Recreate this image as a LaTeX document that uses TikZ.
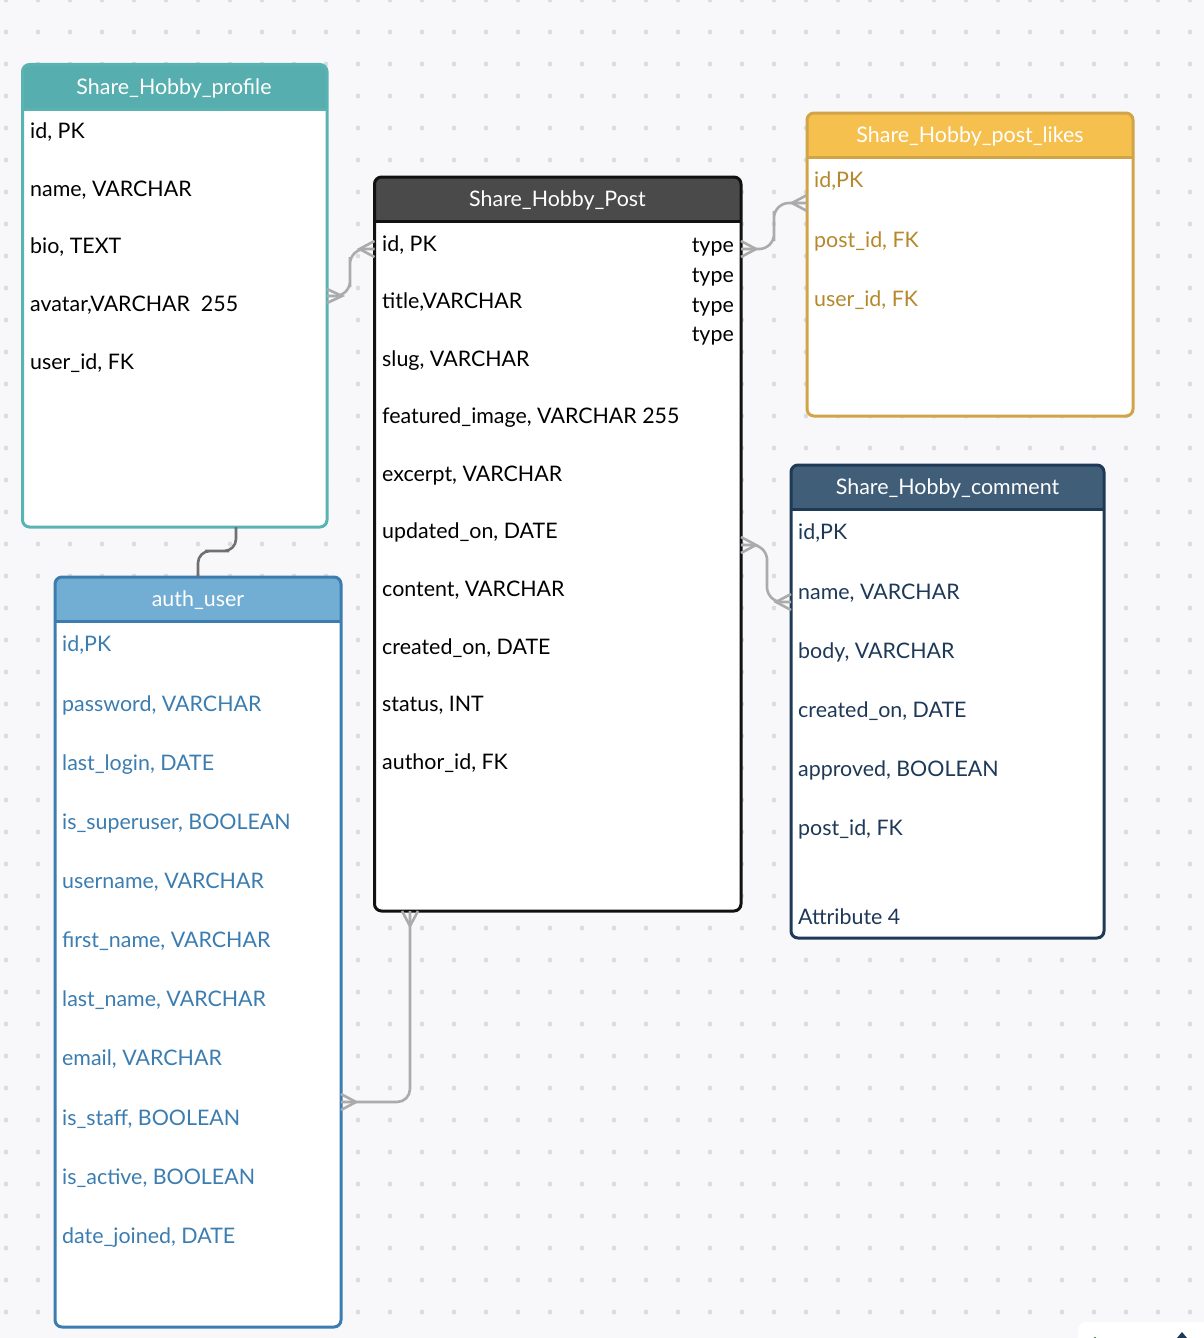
\documentclass[tikz,border=0pt]{standalone}
\usepackage{fontspec}
\setmainfont{Lato}
\usetikzlibrary{calc}
\definecolor{bgc}{HTML}{F8F8FA}
\definecolor{dotc}{HTML}{DCDCE0}
\definecolor{tealh}{HTML}{57AEAE}
\definecolor{tealb}{HTML}{5AB3B3}
\definecolor{posth}{HTML}{4A4A4A}
\definecolor{postb}{HTML}{111111}
\definecolor{likeh}{HTML}{F5C04E}
\definecolor{likeb}{HTML}{D2A448}
\definecolor{liket}{HTML}{B5892B}
\definecolor{comh}{HTML}{415E79}
\definecolor{comb}{HTML}{1F3A56}
\definecolor{comt}{HTML}{1E3957}
\definecolor{authh}{HTML}{72AED3}
\definecolor{authb}{HTML}{3B7DB1}
\definecolor{autht}{HTML}{3B7DB1}
\definecolor{connc}{HTML}{ABABAB}
\definecolor{conndark}{HTML}{707070}
\newcommand\erbox[8]{%
  \node[inner sep=0pt, outer sep=0pt, minimum width={#4-#2}, minimum height={#5-#3}, anchor=north west] (#1) at (#2,#3) {};
  \fill[white, rounded corners=7pt] (#2,#3) rectangle (#4,#5);
  \fill[#7, rounded corners=7pt] (#2,#3) rectangle (#4,{#6+14});
  \fill[white] (#2,#6) rectangle (#4,{#6+16});
  \draw[#8, line width=3pt] (#2,#6) -- (#4,#6);
  \draw[#8, line width=3pt, rounded corners=7pt] (#2,#3) rectangle (#4,#5);
}
\begin{document}
\begin{tikzpicture}[x=1pt,y=-1pt,
  font=\fontsize{21.4}{25}\selectfont,
  rowtext/.style={anchor=base west, inner sep=0pt, yshift=-7.6pt},
  typetext/.style={anchor=base east, inner sep=0pt, yshift=-7.6pt},
  titletext/.style={anchor=base, inner sep=0pt, yshift=-7.6pt, text=white},
  conn/.style={draw=connc, line width=2.6pt},
  conndk/.style={draw=conndark, line width=2.6pt}]
\useasboundingbox (0,0) rectangle (1204,1338);
\fill[bgc] (0,0) rectangle (1204,1338);
\foreach \i in {0,...,37} {\foreach \j in {0,...,41} {\fill[dotc] ({6+32*\i},{32*\j}) circle (2.4pt);}}
% bottom-right toolbar fragment
\fill[white, rounded corners=8pt] (1078,1322) rectangle (1230,1360);
\draw[comb, line width=1.6pt] (1031,1342) arc[start angle=180, end angle=0, radius=6.5];
\fill[green!50!black] (1095,1338) circle (1.2pt);
\fill[comb] (1177,1338) -- (1182,1332) -- (1187,1338) -- cycle;

% tables
\erbox{profile}{22.5}{64.5}{327}{527}{109}{tealh}{tealb}
\erbox{post}{374.5}{177}{741}{911}{221}{posth}{postb}
\erbox{likes}{807}{113}{1133}{416}{157}{likeh}{likeb}
\erbox{comment}{791}{465}{1104}{938}{509}{comh}{comb}
\erbox{auth}{55}{577}{341}{1327}{621}{authh}{authb}

% titles
\node[titletext] (t-profile) at (174,87) {Share\_Hobby\_profile};
\node[titletext] (t-post) at (557.5,199) {Share\_Hobby\_Post};
\node[titletext] (t-likes) at (970,135) {Share\_Hobby\_post\_likes};
\node[titletext] (t-comment) at (947.5,487) {Share\_Hobby\_comment};
\node[titletext] (t-auth) at (198,599) {auth\_user};

% profile rows
\node[rowtext] (p1) at (30,131) {id, PK};
\node[rowtext] (p2) at (30,189) {name, VARCHAR};
\node[rowtext] (p3) at (30,246) {bio, TEXT};
\node[rowtext] (p4) at (30,304) {avatar,VARCHAR\ \ 255};
\node[rowtext] (p5) at (30,362) {user\_id, FK};

% post rows
\node[rowtext] (q1) at (382,244) {id, PK};
\node[rowtext] (q2) at (382,301) {title,VARCHAR};
\node[rowtext] (q3) at (382,359) {slug, VARCHAR};
\node[rowtext] (q4) at (382,416) {featured\_image, VARCHAR 255};
\node[rowtext] (q5) at (382,474) {excerpt, VARCHAR};
\node[rowtext] (q6) at (382,531) {updated\_on, DATE};
\node[rowtext] (q7) at (382,589) {content, VARCHAR};
\node[rowtext] (q8) at (382,647) {created\_on, DATE};
\node[rowtext] (q9) at (382,704) {status, INT};
\node[rowtext] (q10) at (382,762) {author\_id, FK};
\node[typetext] (ty1) at (734,245) {type};
\node[typetext] (ty2) at (734,275) {type};
\node[typetext] (ty3) at (734,305) {type};
\node[typetext] (ty4) at (734,334) {type};

% likes rows
\node[rowtext, text=liket] (l1) at (814,180) {id,PK};
\node[rowtext, text=liket] (l2) at (814,240) {post\_id, FK};
\node[rowtext, text=liket] (l3) at (814,299) {user\_id, FK};

% comment rows
\node[rowtext, text=comt] (c1) at (798,532) {id,PK};
\node[rowtext, text=comt] (c2) at (798,592) {name, VARCHAR};
\node[rowtext, text=comt] (c3) at (798,651) {body, VARCHAR};
\node[rowtext, text=comt] (c4) at (798,710) {created\_on, DATE};
\node[rowtext, text=comt] (c5) at (798,769) {approved, BOOLEAN};
\node[rowtext, text=comt] (c6) at (798,828) {post\_id, FK};
\node[rowtext, text=comt] (c7) at (798,917) {Attribute 4};

% auth rows
\node[rowtext, text=autht] (a1) at (62,644) {id,PK};
\node[rowtext, text=autht] (a2) at (62,704) {password, VARCHAR};
\node[rowtext, text=autht] (a3) at (62,763) {last\_login, DATE};
\node[rowtext, text=autht] (a4) at (62,822) {is\_superuser, BOOLEAN};
\node[rowtext, text=autht] (a5) at (62,881) {username, VARCHAR};
\node[rowtext, text=autht] (a6) at (62,940) {first\_name, VARCHAR};
\node[rowtext, text=autht] (a7) at (62,999) {last\_name, VARCHAR};
\node[rowtext, text=autht] (a8) at (62,1058) {email, VARCHAR};
\node[rowtext, text=autht] (a9) at (62,1118) {is\_staff, BOOLEAN};
\node[rowtext, text=autht] (a10) at (62,1177) {is\_active, BOOLEAN};
\node[rowtext, text=autht] (a11) at (62,1236) {date\_joined, DATE};

% connector 1: profile -- post
\coordinate (e1a) at (profile.east |- 0,296);
\coordinate (e1b) at (post.west |- 0,249);
\coordinate (m1) at (350,272);
\draw[conn, rounded corners=15pt] (e1a) -| (m1) |- (e1b);
\draw[conn] ([yshift=7pt]e1a) -- ([xshift=15pt]e1a) -- ([yshift=-7pt]e1a);
\draw[conn] ([yshift=8pt]e1b) -- ([xshift=-15pt]e1b) -- ([yshift=-8pt]e1b);

% connector 2: post -- likes
\coordinate (e2a) at (post.east |- 0,249);
\coordinate (e2b) at (likes.west |- 0,203);
\coordinate (m2) at (774,226);
\draw[conn, rounded corners=15pt] (e2a) -| (m2) |- (e2b);
\draw[conn] ([yshift=8pt]e2a) -- ([xshift=15pt]e2a) -- ([yshift=-8pt]e2a);
\draw[conn] ([yshift=8pt]e2b) -- ([xshift=-15pt]e2b) -- ([yshift=-8pt]e2b);

% connector 3: post -- comment
\coordinate (e3a) at (post.east |- 0,545);
\coordinate (e3b) at (comment.west |- 0,602);
\coordinate (m3) at (767,573);
\draw[conn, rounded corners=15pt] (e3a) -| (m3) |- (e3b);
\draw[conn] ([yshift=8pt]e3a) -- ([xshift=15pt]e3a) -- ([yshift=-8pt]e3a);
\draw[conn] ([yshift=8pt]e3b) -- ([xshift=-15pt]e3b) -- ([yshift=-8pt]e3b);

% connector 4: profile -- auth_user
\coordinate (e4a) at (profile.south -| 236,0);
\coordinate (e4b) at (auth.north -| 198,0);
\coordinate (m4) at (217,551);
\draw[conndk, rounded corners=12pt] (e4a) |- (m4) -| (e4b);

% connector 5: post -- auth_user
\coordinate (e5a) at (post.south -| 410,0);
\coordinate (e5b) at (auth.east |- 0,1102);
\draw[conn, rounded corners=13pt] (e5a) |- (e5b);
\draw[conn] ([xshift=-8pt]e5a) -- ([yshift=-15pt]e5a) -- ([xshift=8pt]e5a);
\draw[conn] ([yshift=8pt]e5b) -- ([xshift=15pt]e5b) -- ([yshift=-8pt]e5b);
\end{tikzpicture}
\end{document}
